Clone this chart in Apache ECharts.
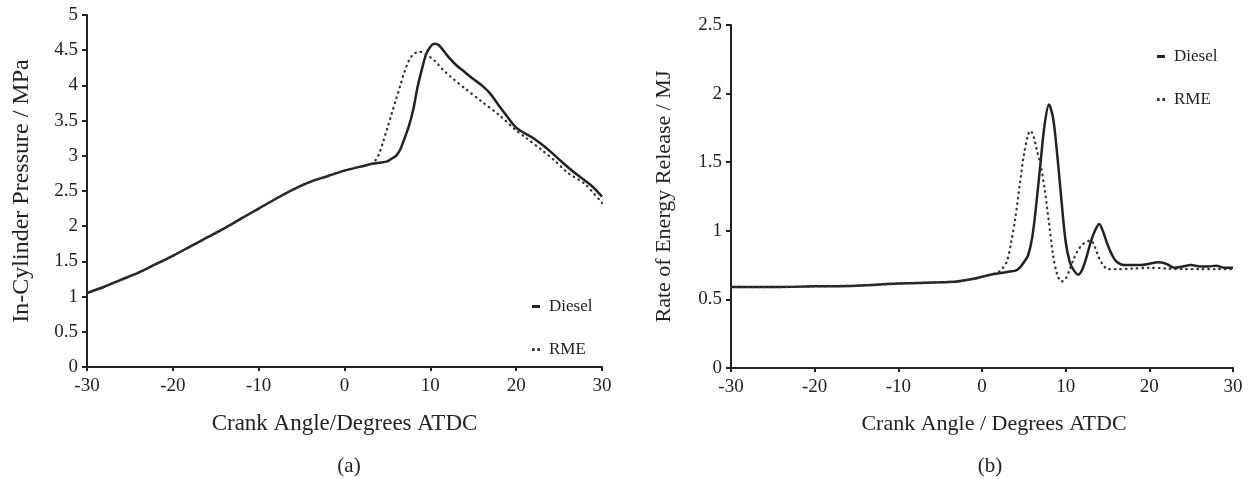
<!DOCTYPE html>
<html>
<head>
<meta charset="utf-8">
<style>
  html, body { margin: 0; padding: 0; background: #fff; }
  #chart { width: 1250px; height: 479px; }
</style>
<script src="https://cdn.jsdelivr.net/npm/echarts@6/dist/echarts.min.js"></script>
</head>
<body>
<div id="chart"></div>
<script>
// Crank angle ticks shared by both panels
const angleTicks = [-30, -20, -10, 0, 10, 20, 30];

// (a) In-cylinder pressure, MPa
const pressureDieselAngle = [-30, -28, -26, -24, -22, -20, -18, -16, -14, -12, -10, -8, -6, -4, -2, 0, 2, 3, 4, 5, 5.5, 6, 6.5, 7, 7.5, 8, 8.5, 9, 9.5, 10, 10.5, 11, 12, 13, 14, 15, 16, 17, 18, 19, 20, 21, 22, 23, 24, 25, 26, 27, 28, 29, 30];
const pressureDiesel = [1.05, 1.14, 1.24, 1.34, 1.46, 1.58, 1.71, 1.84, 1.97, 2.11, 2.25, 2.39, 2.52, 2.63, 2.71, 2.79, 2.85, 2.88, 2.9, 2.92, 2.96, 3.0, 3.09, 3.25, 3.42, 3.65, 3.97, 4.22, 4.44, 4.55, 4.59, 4.57, 4.42, 4.29, 4.19, 4.09, 4.0, 3.88, 3.71, 3.55, 3.4, 3.32, 3.25, 3.16, 3.06, 2.95, 2.84, 2.74, 2.65, 2.55, 2.42];

const pressureRmeAngle = [-30, -28, -26, -24, -22, -20, -18, -16, -14, -12, -10, -8, -6, -4, -2, 0, 2, 3, 3.5, 4, 4.5, 5, 5.5, 6, 6.5, 7, 7.5, 8, 8.7, 9.5, 10.5, 11.5, 12.5, 14, 16, 18, 20, 21, 23, 24.5, 26, 28, 30];
const pressureRme = [1.05, 1.14, 1.24, 1.34, 1.46, 1.58, 1.71, 1.84, 1.97, 2.11, 2.25, 2.39, 2.52, 2.63, 2.71, 2.79, 2.85, 2.88, 2.92, 3.02, 3.2, 3.4, 3.6, 3.8, 4.0, 4.2, 4.35, 4.44, 4.48, 4.44, 4.35, 4.22, 4.11, 3.96, 3.77, 3.58, 3.36, 3.27, 3.08, 2.93, 2.76, 2.6, 2.33];

// (b) Rate of energy release, MJ
const heatDieselAngle = [-30, -25, -20, -15, -10, -5, -3, -1, 0, 1, 2, 3, 4, 4.5, 5, 5.5, 6, 6.5, 7, 7.5, 8, 8.5, 9, 9.5, 10, 10.5, 11, 11.5, 12, 12.5, 13, 13.5, 14, 14.5, 15, 15.5, 16, 17, 18, 19, 20, 21, 22, 23, 24, 25, 26, 27, 28, 29, 30];
const heatDiesel = [0.59, 0.59, 0.595, 0.6, 0.615, 0.625, 0.63, 0.65, 0.665, 0.68, 0.69, 0.7, 0.71, 0.73, 0.77, 0.82, 0.95, 1.2, 1.5, 1.78, 1.92, 1.82, 1.55, 1.22, 0.92, 0.77, 0.71, 0.68, 0.72, 0.81, 0.92, 1.0, 1.05, 0.99, 0.9, 0.83, 0.78, 0.75, 0.75, 0.75, 0.76, 0.77, 0.76, 0.73, 0.74, 0.75, 0.74, 0.74, 0.745, 0.73, 0.73];

const heatRmeAngle = [-30, -25, -20, -15, -10, -5, -3, -1, 0, 1, 2, 2.5, 3, 3.5, 4, 4.5, 5, 5.5, 5.8, 6.2, 6.5, 7, 7.5, 8, 8.5, 9, 9.5, 10, 10.5, 11, 11.5, 12, 12.5, 13, 13.5, 14, 14.5, 15, 16, 18, 20, 22, 24, 26, 28, 30];
const heatRme = [0.59, 0.59, 0.595, 0.6, 0.615, 0.625, 0.63, 0.65, 0.665, 0.68, 0.7, 0.73, 0.78, 0.92, 1.1, 1.33, 1.55, 1.7, 1.73, 1.68, 1.6, 1.48, 1.3, 1.06, 0.82, 0.68, 0.63, 0.65, 0.72, 0.8, 0.86, 0.9, 0.92, 0.93, 0.88, 0.8, 0.75, 0.72, 0.72, 0.725, 0.73, 0.725, 0.72, 0.72, 0.72, 0.72];

const pair = (xs, ys) => xs.map((x, i) => [x, ys[i]]);

const serif = 'Liberation Serif';
const ink = '#222';

function xAxisFor(gridIndex, title, titleSize, gap, shift) {
  return {
    type: 'value', gridIndex, min: angleTicks[0], max: angleTicks[angleTicks.length - 1], interval: 10,
    name: title, nameLocation: 'middle', nameGap: gap,
    nameTextStyle: { fontFamily: serif, fontSize: titleSize, color: ink, padding: [0, 0, 0, shift] },
    axisLine: { onZero: false, lineStyle: { color: ink, width: 2 } },
    axisTick: { show: true, inside: false, length: 4, lineStyle: { color: ink, width: 2 } },
    axisLabel: { fontFamily: serif, fontSize: 19, color: ink, margin: 10 },
    splitLine: { show: false }
  };
}

function yAxisFor(gridIndex, max, title, titleSize, gap) {
  return {
    type: 'value', gridIndex, min: 0, max, interval: 0.5,
    name: title, nameLocation: 'middle', nameGap: gap,
    nameTextStyle: { fontFamily: serif, fontSize: titleSize, color: ink },
    axisLine: { show: true, onZero: false, lineStyle: { color: ink, width: 2 } },
    axisTick: { show: true, inside: false, length: 5, lineStyle: { color: ink, width: 2 } },
    axisLabel: { fontFamily: serif, fontSize: 19, color: ink, margin: 9 },
    splitLine: { show: false }
  };
}

const solid = { color: ink, width: 2.5 };
const dotted = { color: '#333', width: 2.3, type: [0.5, 5], cap: 'round' };

function lineSeries(name, axisIndex, data, lineStyle) {
  return {
    name, type: 'line', xAxisIndex: axisIndex, yAxisIndex: axisIndex,
    data, smooth: 0.3, symbol: 'none', lineStyle, itemStyle: { color: lineStyle.color },
    emphasis: { disabled: true }, animation: false
  };
}

// Legend keys: a short bar for the solid trace, two dots for the dotted one
const legendItems = [
  { name: 'Diesel', icon: 'rect' },
  { name: 'RME', icon: 'path://M0,0h2.6v3h-2.6z M5.4,0h2.6v3h-2.6z' }
];
const legendText = { fontFamily: serif, fontSize: 17, color: ink, padding: [0, 0, 0, 4] };

function legendAt(left, top) {
  return {
    orient: 'vertical', left, top, itemWidth: 8, itemHeight: 3, itemGap: 26,
    data: legendItems, textStyle: legendText, selectedMode: false
  };
}

const chart = echarts.init(document.getElementById('chart'), null, { renderer: 'canvas' });
chart.setOption({
  backgroundColor: '#fff',
  animation: false,
  title: [
    { text: '(a)', left: 344, top: 451, textAlign: 'center', textStyle: { fontFamily: serif, fontSize: 21, fontWeight: 'normal', color: ink } },
    { text: '(b)', left: 985, top: 451, textAlign: 'center', textStyle: { fontFamily: serif, fontSize: 21, fontWeight: 'normal', color: ink } }
  ],
  legend: [legendAt(527, 293), legendAt(1152, 43)],
  grid: [
    { left: 87, right: 648, top: 15, bottom: 112 },
    { left: 731, right: 17, top: 25, bottom: 111 }
  ],
  xAxis: [
    xAxisFor(0, 'Crank Angle/Degrees ATDC', 23, 45, 0),
    xAxisFor(1, 'Crank Angle / Degrees ATDC', 22, 45, 24)
  ],
  yAxis: [
    yAxisFor(0, 5, 'In-Cylinder Pressure / MPa', 24, 53),
    yAxisFor(1, 2.5, 'Rate of Energy Release / MJ', 22, 56)
  ],
  series: [
    lineSeries('Diesel', 0, pair(pressureDieselAngle, pressureDiesel), solid),
    lineSeries('RME', 0, pair(pressureRmeAngle, pressureRme), dotted),
    lineSeries('Diesel', 1, pair(heatDieselAngle, heatDiesel), solid),
    lineSeries('RME', 1, pair(heatRmeAngle, heatRme), dotted)
  ]
});
</script>
</body>
</html>
